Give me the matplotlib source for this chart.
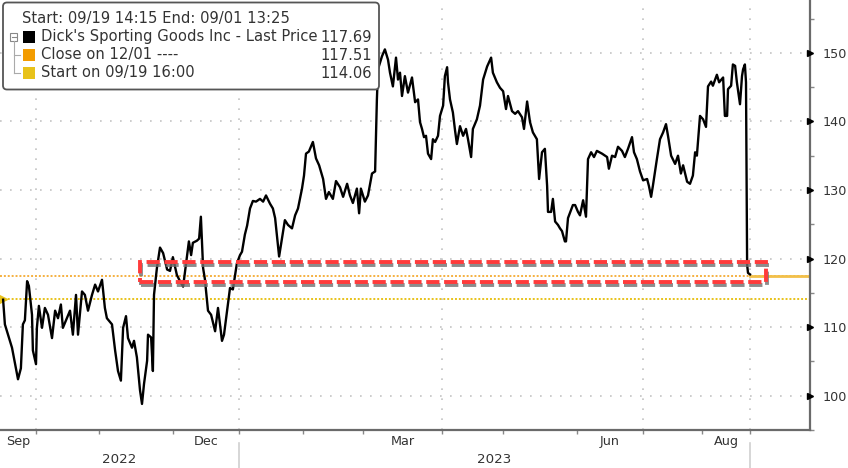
import matplotlib
matplotlib.use("Agg")
import matplotlib.pyplot as plt
import matplotlib.patheffects as pe
from matplotlib.patches import Rectangle, FancyBboxPatch
from matplotlib.transforms import blended_transform_factory

plt.rcParams['font.family'] = ['DejaVu Sans']

# ---- data (x = days on the chart's time axis, y = price USD) ----
days = [1.4, 2.2, 3.6, 5.4, 6.8, 8.1, 9.4, 10.3, 11.2, 12.2, 13.0, 14.4, 14.8, 16.2, 16.6,
        17.5, 18.9, 20.2, 21.6, 23.4, 24.8, 26.1, 27.4, 28.3, 30.1, 31.5, 32.8, 34.2, 35.1,
        36.9, 38.2, 39.6, 41.4, 42.8, 44.1, 45.9, 47.2, 48.1, 50.4, 51.8, 53.1, 54.4, 55.4,
        56.7, 57.6, 59.4, 60.3, 61.6, 63.0, 63.9, 64.8, 66.2, 66.6, 68.0, 68.8, 69.3, 70.6,
        72.0, 73.4, 75.2, 76.5, 77.8, 79.6, 81.0, 82.4, 84.2, 85.0, 86.0, 86.8, 88.6, 89.6,
        90.4, 91.4, 92.2, 93.6, 95.0, 96.8, 98.1, 99.9, 100.8, 102.2, 103.5, 104.8, 106.6,
        108.0, 108.9, 110.2, 111.2, 112.5, 113.8, 115.2, 117.0, 118.4, 119.7, 121.5, 122.8,
        123.8, 124.6, 125.6, 126.9, 128.2, 129.6, 131.4, 132.8, 134.1, 135.9, 136.8, 137.7,
        139.0, 140.8, 142.2, 143.6, 145.4, 146.7, 148.0, 149.8, 151.2, 153.0, 154.4, 156.2,
        157.5, 158.8, 160.6, 161.6, 162.4, 164.2, 165.6, 167.4, 168.8, 169.6, 170.1, 171.9,
        173.2, 174.6, 175.5, 176.8, 178.2, 179.1, 180.0, 180.9, 182.2, 183.6, 185.4, 186.8,
        188.1, 189.0, 189.9, 190.8, 191.7, 192.6, 194.0, 194.8, 195.8, 197.1, 198.0, 199.4,
        200.2, 201.2, 201.6, 202.5, 203.8, 204.8, 205.6, 207.0, 208.4, 209.7, 210.6, 212.0,
        212.8, 214.6, 216.0, 217.4, 219.2, 221.0, 221.8, 223.6, 225.0, 226.4, 227.7, 228.6,
        230.4, 231.8, 233.1, 234.9, 235.8, 237.2, 238.5, 239.8, 241.6, 242.6, 243.9, 245.2,
        246.2, 246.6, 248.0, 248.8, 249.8, 251.1, 252.0, 252.9, 253.4, 254.2, 254.7, 255.6,
        257.8, 258.8, 260.1, 261.0, 262.4, 263.7, 264.6, 266.0, 267.3, 268.6, 270.9, 273.2,
        274.0, 275.4, 276.8, 278.1, 279.9, 281.2, 282.6, 284.4, 285.3, 286.6, 288.0, 289.4,
        291.2, 292.0, 293.0, 293.8, 295.6, 297.0, 298.4, 299.7, 300.6, 302.0, 303.8, 305.1,
        306.4, 307.4, 309.2, 310.5, 311.8, 312.8, 313.6, 315.0, 316.4, 317.7, 318.6, 320.0,
        320.8, 322.6, 323.6, 325.4, 326.2, 327.2, 327.6, 329.0, 329.8, 330.8, 331.6, 333.0,
        333.9, 334.4, 335.2, 335.7, 336.2, 336.6, 337.5]
price = [114.0, 110.4, 108.9, 107.0, 104.6, 102.4, 104.0, 110.4, 111.0, 116.7, 116.0, 111.8,
         106.6, 104.6, 109.9, 113.1, 109.9, 112.8, 111.8, 108.4, 112.4, 111.3, 113.3, 109.9,
         111.3, 112.4, 108.9, 114.7, 108.9, 115.2, 114.7, 112.4, 114.7, 116.2, 115.2, 116.9,
         112.8, 111.3, 110.4, 106.6, 103.6, 102.2, 109.9, 111.6, 108.4, 107.0, 108.0, 105.6,
         100.8, 98.8, 101.7, 105.1, 108.9, 108.5, 103.6, 114.7, 118.6, 121.6, 120.8, 118.4,
         118.2, 120.2, 117.6, 116.7, 115.9, 120.5, 122.5, 120.5, 122.3, 122.6, 122.9, 126.1,
         118.6, 117.0, 112.4, 111.8, 109.4, 112.8, 108.0, 108.9, 112.4, 115.7, 115.5, 119.3,
         120.5, 121.0, 123.5, 124.8, 127.3, 128.4, 128.3, 128.7, 128.3, 129.2, 128.0, 127.3,
         125.9, 123.4, 120.3, 122.9, 125.6, 124.9, 124.4, 126.3, 127.3, 130.2, 132.1, 135.3,
         135.6, 137.0, 134.6, 133.6, 131.6, 128.7, 129.7, 128.7, 131.3, 130.4, 129.0, 130.9,
         129.2, 128.1, 130.2, 126.6, 130.2, 128.3, 129.2, 132.4, 132.7, 143.2, 147.6, 149.5,
         150.5, 149.0, 147.1, 145.1, 149.3, 146.1, 147.1, 143.7, 146.6, 144.2, 146.4, 142.8,
         143.2, 139.9, 138.9, 137.7, 137.9, 135.3, 134.5, 137.4, 137.0, 137.9, 140.8, 142.3,
         146.6, 147.9, 145.7, 143.2, 141.3, 138.6, 136.7, 139.3, 137.9, 138.9, 137.4, 134.8,
         138.9, 140.3, 142.3, 146.1, 148.0, 149.3, 147.1, 145.7, 144.9, 144.4, 141.8, 143.7,
         141.5, 141.1, 141.5, 140.6, 138.9, 142.9, 139.9, 138.4, 137.4, 131.6, 135.5, 136.0,
         130.6, 126.8, 126.8, 128.7, 125.4, 124.9, 124.4, 124.0, 123.4, 122.5, 122.5, 125.9,
         127.8, 127.8, 126.8, 126.3, 128.5, 126.1, 134.5, 135.5, 134.8, 135.7, 135.3, 134.8,
         133.1, 135.0, 134.8, 136.3, 135.7, 134.8, 136.0, 137.7, 135.5, 134.5, 132.7, 131.4,
         131.6, 130.6, 129.0, 130.6, 134.5, 137.4, 138.4, 139.6, 137.9, 135.0, 133.8, 135.0,
         132.4, 133.6, 131.2, 130.9, 132.1, 135.5, 135.0, 140.8, 140.3, 139.2, 145.1, 145.8,
         145.2, 146.8, 145.7, 146.4, 140.8, 140.8, 144.7, 145.2, 148.3, 148.1, 145.7, 142.5,
         146.6, 147.6, 148.3, 145.7, 119.1, 117.9, 117.69]

close_level = 117.51   # Close on 12/01
start_level = 114.06   # Start on 09/19 16:00

# month boundaries on the time axis (Oct .. end of Aug)
month_edges = [16.2, 44.6, 77.9, 107.6, 136.4, 163.4, 198.9, 226.4, 259.7, 289.4, 315.9, 337.5]
grid_edges = [16.2, 107.6, 198.9, 289.4, 337.5]
month_labels = {'Sep': (0.0, 16.2), 'Dec': (77.9, 107.6), 'Mar': (163.4, 198.9),
                'Jun': (259.7, 289.4), 'Aug': (315.9, 337.5)}
year_labels = {'2022': (0.0, 107.6), '2023': (107.6, 337.5)}

# highlighted price band (red dashed box)
band_days = (63.0, 344.7)
band_prices = (116.55, 119.45)

legend_header = "Start: 09/19 14:15 End: 09/01 13:25"
legend_labels = ["Dick's Sporting Goods Inc - Last Price", "Close on 12/01 ----", "Start on 09/19 16:00"]
legend_values = ["117.69", "117.51", "114.06"]
legend_colors = ["#000000", "#f39c00", "#e8c21a"]

X_MAX = 364.5
Y_MIN, Y_MAX = 95.4, 157.7

W, H = 848, 468
fig = plt.figure(figsize=(W / 100, H / 100), dpi=100)
fig.patch.set_facecolor('white')
ax_bottom_px = 430
ax = fig.add_axes([0, 1 - ax_bottom_px / H, 810 / W, ax_bottom_px / H])
ax.set_xlim(0, X_MAX)
ax.set_ylim(Y_MIN, Y_MAX)

# grid
for v in range(100, 151, 10):
    ax.axhline(v, color='#c4c4c4', lw=1.2, ls=(0, (1, 5)), zorder=0)
for e in grid_edges:
    ax.axvline(e, color='#c4c4c4', lw=1.2, ls=(0, (1, 5)), zorder=0)

# reference levels
ax.axhline(start_level, color=legend_colors[2], lw=1.4, ls=(0, (1, 1)), zorder=1)
ax.axhline(close_level, color='#f5b040', lw=1.4, ls=(0, (1, 1)), zorder=1)
ax.plot([days[-1], X_MAX], [close_level, close_level], color='#f2c04a', lw=2.0, zorder=2)
ax.plot([days[0]], [start_level], marker='>', color=legend_colors[2], ms=6, zorder=3, clip_on=False)

# price line
ax.plot(days, price, color='black', lw=1.7, solid_joinstyle='round', zorder=4)

# red dashed box
box = Rectangle((band_days[0], band_prices[0]), band_days[1] - band_days[0],
                band_prices[1] - band_prices[0], fill=False, edgecolor='#ff3b3b',
                lw=2.8, ls=(0, (3.4, 1.2)), zorder=5)
box.set_path_effects([pe.SimpleLineShadow(offset=(0.6, -2.2), shadow_color='#707070', alpha=0.8),
                      pe.Normal()])
ax.add_patch(box)

# axes styling
for s in ['top', 'left']:
    ax.spines[s].set_visible(False)
for s in ['right', 'bottom']:
    ax.spines[s].set_color('#6a6a6a')
    ax.spines[s].set_linewidth(1.6)
ax.yaxis.tick_right()
ax.set_yticks(range(100, 151, 10))
ax.set_yticks(range(95, 156, 10), minor=True)
ax.tick_params(axis='y', which='major', length=0, pad=9, labelsize=9.2, labelcolor='#333333')
ax.tick_params(axis='y', which='minor', length=3, width=1, color='#888888')
tri = blended_transform_factory(ax.transAxes, ax.transData)
ax.plot([1.0] * 6, list(range(100, 151, 10)), ls='', marker='>', ms=4.5, color='black',
        transform=tri, clip_on=False, zorder=6)

ax.set_xticks(month_edges)
ax.set_xticklabels([])
ax.tick_params(axis='x', which='major', length=3, width=1, color='#888888', direction='out')

# month / year labels
lab = blended_transform_factory(ax.transData, ax.transAxes)
for name, (a, b) in month_labels.items():
    ax.text((a + b) / 2, -0.026, name, transform=lab, ha='center', va='center',
            fontsize=9.2, color='#333333')
for name, (a, b) in year_labels.items():
    ax.text((a + b) / 2, -0.068, name, transform=lab, ha='center', va='center',
            fontsize=9.6, color='#333333')
for e in (month_edges[3], month_edges[-1]):
    ax.plot([e, e], [-0.03, -0.09], transform=lab, color='#d0d0d0', lw=1.2, clip_on=False)

# legend box in pixel coordinates
lg = fig.add_axes([0, 0, 1, 1], facecolor='none')
lg.set_xlim(0, W)
lg.set_ylim(H, 0)
lg.axis('off')
lg.add_patch(FancyBboxPatch((3, 2.5), 376, 87, boxstyle='round,pad=0,rounding_size=4',
                            fc='white', ec='#555555', lw=1.3))
lg.text(22, 19, legend_header, fontsize=10.6, va='center', ha='left', color='#333333')
row_y = [37, 55, 73]
for yy, txt, val, col in zip(row_y, legend_labels, legend_values, legend_colors):
    lg.add_patch(Rectangle((23, yy - 6), 12, 12, fc=col, ec='none'))
    lg.text(41, yy, txt, fontsize=10.6, va='center', ha='left', color='#333333')
    lg.text(372, yy, val, fontsize=10.6, va='center', ha='right', color='#333333')
# tree connector
lg.add_patch(Rectangle((10, 33), 7, 8, fc='white', ec='#888888', lw=0.8))
lg.plot([11.5, 15.5], [37, 37], color='#888888', lw=0.8)
lg.plot([13.5, 13.5], [41, 73], color='#aaaaaa', lw=0.8)
lg.plot([13.5, 20], [55, 55], color='#aaaaaa', lw=0.8)
lg.plot([13.5, 20], [73, 73], color='#aaaaaa', lw=0.8)

fig.savefig('out.png', dpi=100, facecolor='white')
